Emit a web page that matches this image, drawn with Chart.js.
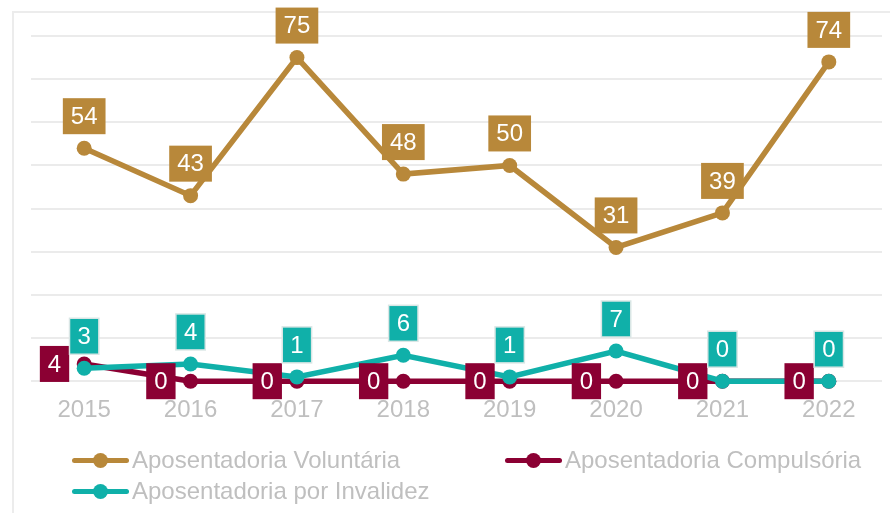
<!DOCTYPE html>
<html>
<head>
<meta charset="utf-8">
<script src="https://cdn.jsdelivr.net/npm/chart.js@4.4.1/dist/chart.umd.min.js"></script>
<style>
  html, body { margin:0; padding:0; background:#fff; }
  body { width:890px; height:513px; position:relative; overflow:hidden; font-family:"Liberation Sans", Arial, sans-serif; }
  #frame { position:absolute; left:12px; top:11px; width:1000px; height:600px; border-left:2px solid #ececec; border-top:2px solid #ececec; box-sizing:border-box; }
  #wrap { position:absolute; left:0; top:0; width:890px; height:513px; }
  #legend { position:absolute; left:0; top:0; width:890px; height:513px; pointer-events:none; }
  .item { position:absolute; display:flex; align-items:center; height:28px; font-size:24px; color:#bfbfbf; white-space:nowrap; }
  .mk { position:relative; width:57px; height:28px; margin-right:3px; }
  .mk .ln { position:absolute; left:0; right:0; top:11.5px; height:5px; border-radius:3px; }
  .mk .dt { position:absolute; left:21px; top:6.5px; width:15px; height:15px; border-radius:50%; }
</style>
</head>
<body>
<div id="frame"></div>
<div id="wrap"><canvas id="c" width="890" height="513"></canvas></div>
<div id="legend"></div>
<script>
const years = ["2015","2016","2017","2018","2019","2020","2021","2022"];
const voluntaria = [54, 43, 75, 48, 50, 31, 39, 74];
const compulsoria = [4, 0, 0, 0, 0, 0, 0, 0];
const invalidez = [3, 4, 1, 6, 1, 7, 0, 0];
const seriesNames = ["Aposentadoria Voluntária", "Aposentadoria Compulsória", "Aposentadoria por Invalidez"];
const colors = ["#B8883A", "#8B0033", "#10B0A9"];
const yMin = 0, yMax = 80, yStep = 10;

const FONT = '"Liberation Sans", Arial, sans-serif';

const labelPlugin = {
  id: 'boxLabels',
  afterDatasetsDraw(chart) {
    const ctx = chart.ctx;
    ctx.save();
    ctx.font = '24px ' + FONT;
    ctx.textAlign = 'center';
    ctx.textBaseline = 'middle';
    chart.data.datasets.forEach((ds, di) => {
      const meta = chart.getDatasetMeta(di);
      meta.data.forEach((pt, i) => {
        const txt = String(ds.data[i]);
        const tw = ctx.measureText(txt).width;
        const w = tw + 16, h = 36;
        let cx, cy;
        if (ds.labelPos === 'left') {
          cx = pt.x - 15 - w / 2;
          cy = pt.y;
        } else {
          cx = pt.x;
          cy = pt.y - 14 - h / 2;
        }
        ctx.fillStyle = ds.borderColor;
        ctx.fillRect(cx - w / 2, cy - h / 2, w, h);
        if (ds.labelBorder) {
          ctx.strokeStyle = ds.labelBorder;
          ctx.lineWidth = 1.5;
          ctx.strokeRect(cx - w / 2, cy - h / 2, w, h);
        }
        ctx.fillStyle = '#ffffff';
        ctx.fillText(txt, cx, cy + 1);
      });
    });
    ctx.restore();
  }
};

const mkDs = (label, data, color, order, pos, border) => ({
  label, data,
  borderColor: color, backgroundColor: color,
  pointBackgroundColor: color, pointBorderColor: color,
  borderWidth: 5.5, pointRadius: 7.5, pointHoverRadius: 7.5, pointBorderWidth: 0,
  tension: 0, order, labelPos: pos, labelBorder: border, clip: false
});

const chart = new Chart(document.getElementById('c'), {
  type: 'line',
  data: {
    labels: years,
    datasets: [
      mkDs(seriesNames[0], voluntaria, colors[0], 2, 'above', null),
      mkDs(seriesNames[1], compulsoria, colors[1], 1, 'left', null),
      mkDs(seriesNames[2], invalidez, colors[2], 0, 'above', '#d9e6e5')
    ]
  },
  options: {
    responsive: false,
    animation: false,
    layout: { padding: { left: 31, right: 8, top: 36, bottom: 73 } },
    plugins: { legend: { display: false }, tooltip: { enabled: false } },
    scales: {
      x: {
        offset: true,
        grid: { display: false, drawTicks: false },
        border: { display: false },
        ticks: { color: '#bfbfbf', font: { size: 24, family: FONT }, padding: 15, maxRotation: 0 }
      },
      y: {
        min: yMin, max: yMax,
        grid: { color: '#ebebeb', lineWidth: 2, drawTicks: false },
        border: { display: false },
        ticks: { display: false, stepSize: yStep }
      }
    }
  },
  plugins: [labelPlugin]
});

const legend = document.getElementById('legend');
const legPos = [[72, 446], [505, 446], [72, 477]];
chart.data.datasets.forEach((ds, i) => {
  const it = document.createElement('div');
  it.className = 'item';
  it.style.left = legPos[i][0] + 'px';
  it.style.top = legPos[i][1] + 'px';
  it.innerHTML = '<span class="mk"><span class="ln" style="background:' + ds.borderColor + '"></span><span class="dt" style="background:' + ds.borderColor + '"></span></span><span>' + ds.label + '</span>';
  legend.appendChild(it);
});
</script>
</body>
</html>
